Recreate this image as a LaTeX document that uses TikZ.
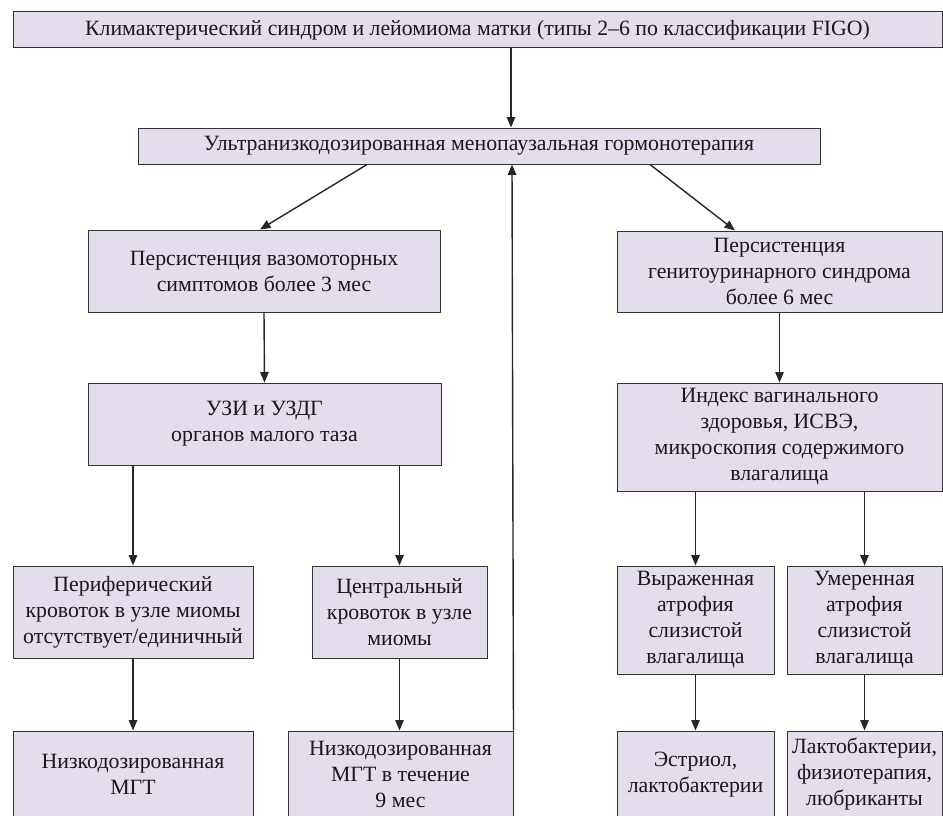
\documentclass[tikz,border=0pt]{standalone}
\usepackage{fontspec}
\setmainfont{Liberation Serif}
\usetikzlibrary{arrows.meta, positioning, calc}
\definecolor{boxfill}{RGB}{228,221,236}
\definecolor{boxline}{RGB}{50,50,50}

\begin{document}
\begin{tikzpicture}[x=1pt, y=-1pt, >={Triangle[length=10.5pt,width=8.5pt]},
  box/.style = {draw=boxline, fill=boxfill, line width=1pt, align=center, inner sep=0pt,
                text=black!90, font=\fontsize{21.8}{26}\selectfont},
  link/.style = {->, line width=1.4pt, draw=black!85}]
  \useasboundingbox (0,0) rectangle (943,816);

  % top levels
  \node[box, minimum width=929pt, minimum height=36pt] (top)   at (477.5,30)  {Климактерический синдром и лейомиома матки (типы 2–6 по классификации FIGO)};
  \node[box, minimum width=682pt, minimum height=36pt] (ultra) at (479,146)   {Ультранизкодозированная менопаузальная гормонотерапия};

  % left branch
  \node[box, minimum width=352pt, minimum height=82pt] (vaso)    at (264,271)   {Персистенция вазомоторных\\симптомов более 3 мес};
  \node[box, minimum width=353pt, minimum height=82pt] (uzi)     at (264.5,424) {УЗИ и УЗДГ\\органов малого таза};
  \node[box, minimum width=240pt, minimum height=92pt] (periph)  at (133,612)   {Периферический\\кровоток в узле миомы\\отсутствует/единичный};
  \node[box, minimum width=175pt, minimum height=92pt] (central) at (399.5,612) {Центральный\\кровоток в узле\\миомы};
  \node[box, minimum width=240pt, minimum height=87pt] (lowdose) at (133,774.5)  {Низкодозированная\\МГТ};
  \node[box, minimum width=225pt, minimum height=87pt] (ninemon) at (400.5,774.5) {Низкодозированная\\МГТ в течение\\9 мес};

  % right branch
  \node[box, minimum width=325pt, minimum height=81pt]  (genito)   at (779.5,271.5) {Персистенция\\генитоуринарного синдрома\\более 6 мес};
  \node[box, minimum width=325pt, minimum height=108pt] (index)    at (779.5,437)   {Индекс вагинального\\здоровья, ИСВЭ,\\микроскопия содержимого\\влагалища};
  \node[box, minimum width=157pt, minimum height=108pt] (severe)   at (695.5,620)   {Выраженная\\атрофия\\слизистой\\влагалища};
  \node[box, minimum width=155pt, minimum height=108pt] (moderate) at (864.5,620)   {Умеренная\\атрофия\\слизистой\\влагалища};
  \node[box, minimum width=157pt, minimum height=87pt]  (estriol)  at (695.5,774.5) {Эстриол,\\лактобактерии};
  \node[box, minimum width=155pt, minimum height=87pt]  (lacto)    at (864.5,774.5) {Лактобактерии,\\физиотерапия,\\любриканты};

  % connectors
  \draw[link] ([xshift=33.5pt]top.south) -- ([xshift=32pt]ultra.north);
  \draw[link] ([xshift=-112pt]ultra.south) -- ([xshift=-4pt]vaso.north);
  \draw[link] ([xshift=171pt]ultra.south) -- ([xshift=-44.5pt]genito.north);
  \draw[link] (vaso.south) -- (uzi.north);
  \draw[link] (uzi.south -| periph.north) -- (periph.north);
  \draw[link] (uzi.south -| central.north) -- (central.north);
  \draw[link] (periph.south) -- (lowdose.north);
  \draw[link] (central.south) -- (central.south |- ninemon.north);
  \draw[link] (ninemon.north east) -- ([xshift=33pt]ultra.south);
  \draw[link] (genito.south) -- (index.north);
  \draw[link] (index.south -| severe.north) -- (severe.north);
  \draw[link] (index.south -| moderate.north) -- (moderate.north);
  \draw[link] (severe.south) -- (estriol.north);
  \draw[link] (moderate.south) -- (lacto.north);
\end{tikzpicture}
\end{document}
